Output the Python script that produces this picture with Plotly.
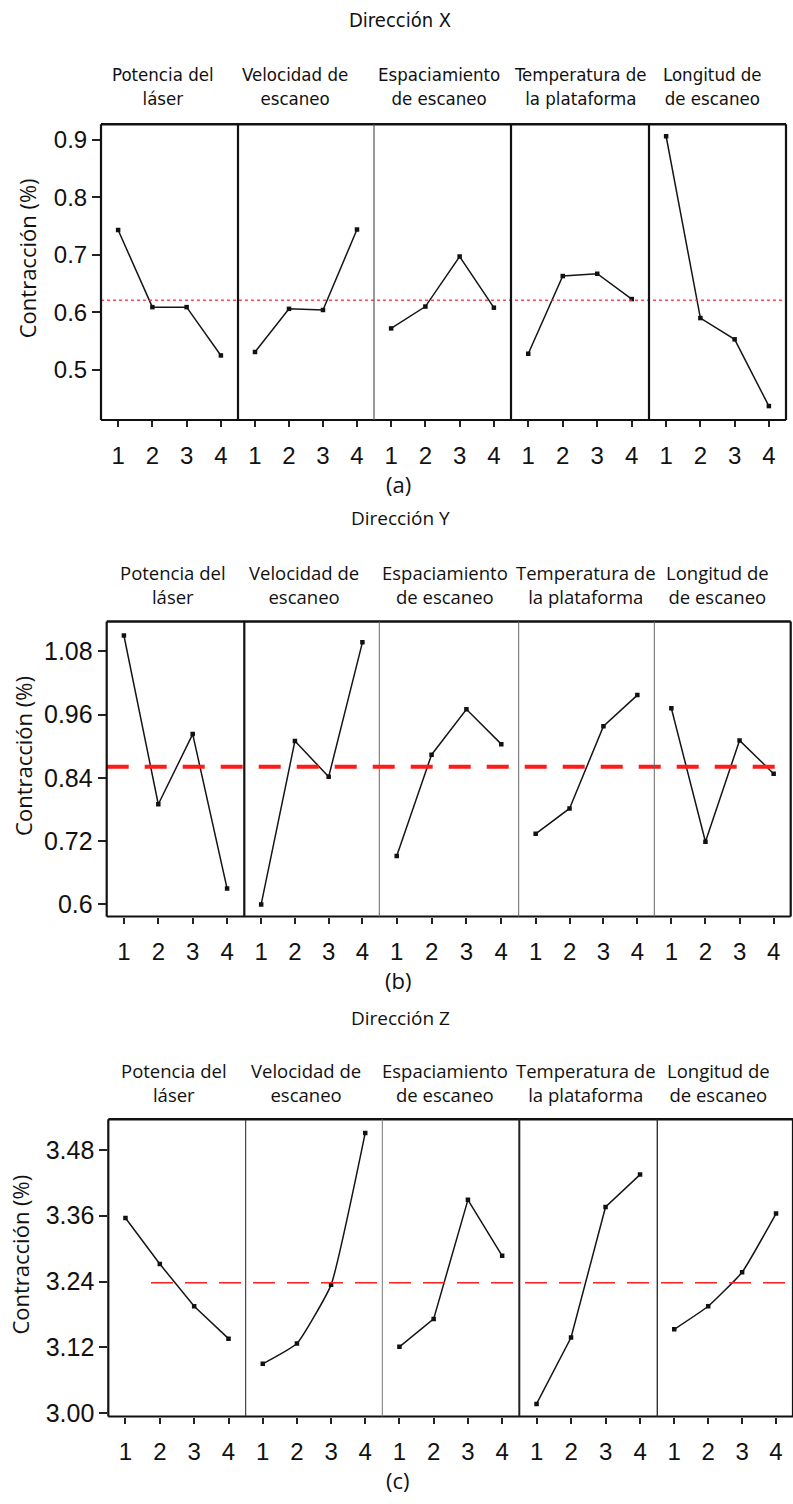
import plotly.graph_objects as go

W, H = 793, 1504

factors = ["Potencia del<br>láser", "Velocidad de<br>escaneo", "Espaciamiento<br>de escaneo",
           "Temperatura de<br>la plataforma", "Longitud de<br>de escaneo"]
levels = [1, 2, 3, 4]

# Mean shrinkage per factor level, X direction
x_potencia = [0.743, 0.609, 0.609, 0.525]
x_velocidad = [0.531, 0.606, 0.604, 0.744]
x_espaciamiento = [0.572, 0.610, 0.697, 0.608]
x_temperatura = [0.528, 0.663, 0.667, 0.623]
x_longitud = [0.906, 0.590, 0.553, 0.437]
x_mean = 0.621

# Y direction
y_potencia = [1.110, 0.790, 0.923, 0.630]
y_velocidad = [0.600, 0.910, 0.842, 1.097]
y_espaciamiento = [0.692, 0.884, 0.970, 0.904]
y_temperatura = [0.734, 0.782, 0.938, 0.997]
y_longitud = [0.972, 0.719, 0.911, 0.848]
y_mean = 0.861

# Z direction
z_potencia = [3.356, 3.272, 3.195, 3.136]
z_velocidad = [3.090, 3.127, 3.234, 3.511]
z_espaciamiento = [3.121, 3.172, 3.389, 3.287]
z_temperatura = [3.017, 3.138, 3.376, 3.435]
z_longitud = [3.153, 3.195, 3.257, 3.364]
z_mean = 3.238

x_ticks_a = [0.5, 0.6, 0.7, 0.8, 0.9]
x_ticktext_a = ["0.5", "0.6", "0.7", "0.8", "0.9"]
y_ticks_b = [0.6, 0.72, 0.84, 0.96, 1.08]
y_ticktext_b = ["0.6", "0.72", "0.84", "0.96", "1.08"]
z_ticks_c = [3.00, 3.12, 3.24, 3.36, 3.48]
z_ticktext_c = ["3.00", "3.12", "3.24", "3.36", "3.48"]

narrow = "Liberation Sans Narrow, DejaVu Sans Condensed, Open Sans"

rows = [
    dict(title="Dirección X", tag="(a)",
         series=[x_potencia, x_velocidad, x_espaciamiento, x_temperatura, x_longitud],
         mean=x_mean, ticks=x_ticks_a, ticktext=x_ticktext_a, yrange=[0.413, 0.927],
         top=125, bot=422.7, edges=[101, 238, 374, 511, 649, 786],
         dividers=[2.2, 1.2, 2.2, 2.2], div_colors=["#111", "#555", "#111", "#111"],
         title_y=20, lab_y=87, lab_x=[163, 295, 439, 580, 712],
         tag_y=487, ytitle_y=260, ytitle_x=27, tickfont=24,
         labfont=dict(family=narrow, size=18.5),
         titlefont=dict(family=narrow, size=20),
         mean_line=dict(color="rgba(255,40,40,0.85)", width=1.6, dash="dot"), mean_x0=101,
         shapes=["linear"] * 5),
    dict(title="Dirección Y", tag="(b)",
         series=[y_potencia, y_velocidad, y_espaciamiento, y_temperatura, y_longitud],
         mean=y_mean, ticks=y_ticks_b, ticktext=y_ticktext_b, yrange=[0.577, 1.1365],
         top=625.7, bot=922.7, edges=[106.7, 244.3, 379.3, 518.7, 654.3, 790.7],
         dividers=[2.2, 1.0, 1.0, 1.0], div_colors=["#111", "#666", "#666", "#666"],
         title_y=521, lab_y=588.5, lab_x=[173, 304, 445, 586, 717],
         tag_y=987, ytitle_y=761, ytitle_x=23, tickfont=25,
         labfont=dict(family="Open Sans", size=18.5),
         titlefont=dict(family="Open Sans", size=19),
         mean_line=dict(color="#ff1a1a", width=4, dash="22px,16px"), mean_x0=106.7,
         shapes=["linear"] * 5),
    dict(title="Dirección Z", tag="(c)",
         series=[z_potencia, z_velocidad, z_espaciamiento, z_temperatura, z_longitud],
         mean=z_mean, ticks=z_ticks_c, ticktext=z_ticktext_c, yrange=[2.994, 3.536],
         top=1126.7, bot=1426, edges=[108.3, 245.7, 382.3, 519.3, 657.3, 793],
         dividers=[1.0, 1.0, 2.0, 1.4], div_colors=["#222", "#777", "#222", "#333"],
         title_y=1025, lab_y=1090, lab_x=[174, 306, 445, 586, 718],
         tag_y=1490, ytitle_y=1263, ytitle_x=20, tickfont=25,
         labfont=dict(family="Open Sans", size=18.5),
         titlefont=dict(family="Open Sans", size=19),
         mean_line=dict(color="#ff2020", width=1.4, dash="22px,12px"), mean_x0=151,
         shapes=["linear", "spline", "linear", "linear", "spline"]),
]

fig = go.Figure()
layout = dict(width=W, height=H, margin=dict(l=0, r=0, t=0, b=0),
              paper_bgcolor="white", plot_bgcolor="white", showlegend=False)
shapes, annotations = [], []


def px(x):
    return x / W


def py(y):
    return 1 - y / H


xi = 0
for r, row in enumerate(rows):
    yname = "yaxis" if r == 0 else f"yaxis{r + 1}"
    yref = "y" if r == 0 else f"y{r + 1}"
    first_x = None
    for p in range(5):
        xi += 1
        xname = "xaxis" if xi == 1 else f"xaxis{xi}"
        xref = "x" if xi == 1 else f"x{xi}"
        if first_x is None:
            first_x = xref
        e0, e1 = row["edges"][p], row["edges"][p + 1]
        layout[xname] = dict(domain=[px(e0), min(px(e1), 1.0)], range=[0.5, 4.5],
                             anchor=yref, tickvals=levels, ticktext=[str(v) for v in levels],
                             ticks="outside", ticklen=6, tickwidth=1.5, tickcolor="#222",
                             ticklabelstandoff=8,
                             showgrid=False, zeroline=False, showline=False, fixedrange=True,
                             tickfont=dict(family="Liberation Sans, Arial", size=24, color="#111"))
        fig.add_trace(go.Scatter(x=levels, y=row["series"][p], xaxis=xref, yaxis=yref,
                                 mode="lines+markers",
                                 line=dict(color="#151515", width=1.5, shape=row["shapes"][p],
                                           smoothing=0.4),
                                 marker=dict(symbol="square", size=4.5, color="#111"),
                                 hoverinfo="skip"))
        # two-line factor label above each panel
        annotations.append(dict(x=px(row["lab_x"][p]), y=py(row["lab_y"]), xref="paper", yref="paper",
                                text=factors[p], showarrow=False, xanchor="center", yanchor="middle",
                                align="center", borderpad=0,
                                font=dict(color="#111", **row["labfont"])))
    layout[yname] = dict(domain=[py(row["bot"]), py(row["top"])], range=row["yrange"],
                         anchor=first_x, tickvals=row["ticks"], ticktext=row["ticktext"],
                         ticks="outside", ticklen=8, tickwidth=1.5, tickcolor="#222",
                         showgrid=False, zeroline=False, showline=False, fixedrange=True,
                         tickfont=dict(family="Liberation Sans, Arial", size=row["tickfont"], color="#111"))

    # mean reference line across the row
    shapes.append(dict(type="line", xref="paper", yref=yref, x0=px(row["mean_x0"]),
                       x1=min(px(row["edges"][-1]), 1.0), y0=row["mean"], y1=row["mean"],
                       line=row["mean_line"], layer="above"))
    # frame of the row
    l, rgt = px(row["edges"][0]), min(px(row["edges"][-1]), 1.0)
    t, b = py(row["top"]), py(row["bot"])
    shapes.append(dict(type="line", xref="paper", yref="paper", x0=l, x1=rgt, y0=t, y1=t,
                       line=dict(color="#111", width=2.5)))
    shapes.append(dict(type="line", xref="paper", yref="paper", x0=l, x1=rgt, y0=b, y1=b,
                       line=dict(color="#111", width=2)))
    shapes.append(dict(type="line", xref="paper", yref="paper", x0=l, x1=l, y0=b, y1=t,
                       line=dict(color="#111", width=2.2)))
    shapes.append(dict(type="line", xref="paper", yref="paper", x0=rgt, x1=rgt, y0=b, y1=t,
                       line=dict(color="#111", width=2.2)))
    for k, wdt in enumerate(row["dividers"]):
        xd = px(row["edges"][k + 1])
        shapes.append(dict(type="line", xref="paper", yref="paper", x0=xd, x1=xd, y0=b, y1=t,
                           line=dict(color=row["div_colors"][k], width=wdt)))

    annotations.append(dict(x=px(400), y=py(row["title_y"]), xref="paper", yref="paper",
                            text=row["title"], showarrow=False, xanchor="center", yanchor="middle",
                            font=dict(color="#111", **row["titlefont"])))
    annotations.append(dict(x=px(398), y=py(row["tag_y"]), xref="paper", yref="paper",
                            text=row["tag"], showarrow=False, xanchor="center", yanchor="middle",
                            font=dict(family="Open Sans", size=22, color="#111")))
    annotations.append(dict(x=px(row["ytitle_x"]), y=py(row["ytitle_y"]), xref="paper", yref="paper",
                            text="Contracción (%)", showarrow=False, textangle=-90,
                            xanchor="center", yanchor="middle",
                            font=dict(family="Open Sans", size=22, color="#111")))

layout["shapes"] = shapes
layout["annotations"] = annotations
fig.update_layout(**layout)
fig.write_html("out.html")
